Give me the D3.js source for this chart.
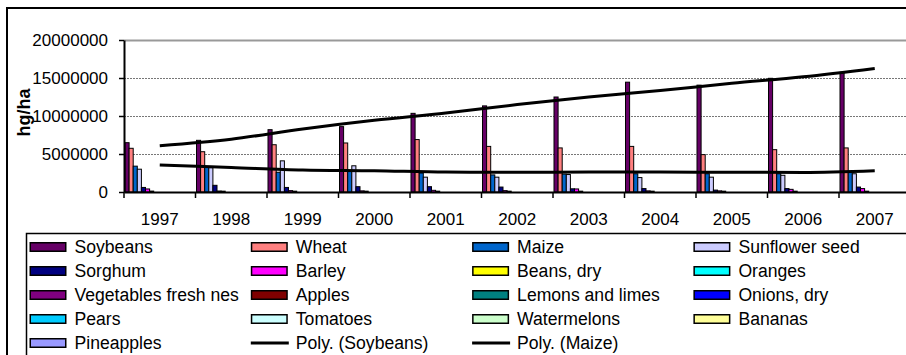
<!DOCTYPE html>
<html>
<head>
<meta charset="utf-8">
<script src="https://cdn.jsdelivr.net/npm/d3@7"></script>
<style>
  html, body { margin: 0; padding: 0; background: #fff; }
  svg { display: block; font-family: "Liberation Sans", Arial, sans-serif; }
</style>
</head>
<body>
<svg id="chart" width="906" height="355"></svg>
<script>
// Yield by year (hg/ha)
const years = ["1997", "1998", "1999", "2000", "2001", "2002", "2003", "2004", "2005", "2006", "2007"];
const yTicks = [0, 5000000, 10000000, 15000000, 20000000];

const soybeans      = [6490000, 6800000, 8200000, 8600000, 10350000, 11330000, 12500000, 14450000, 14060000, 14960000, 15750000];
const wheat         = [5750000, 5300000, 6220000, 6450000, 6900000, 6000000, 5800000, 6000000, 4920000, 5570000, 5800000];
const maize         = [3400000, 3350000, 2600000, 2750000, 2500000, 2250000, 2350000, 2400000, 2400000, 2400000, 2700000];
const sunflowerSeed = [3000000, 3200000, 4100000, 3450000, 1950000, 1950000, 2300000, 1900000, 1950000, 2200000, 2400000];
const sorghum       = [600000, 880000, 600000, 700000, 700000, 650000, 420000, 450000, 250000, 450000, 650000];
const barley        = [400000, 130000, 180000, 150000, 220000, 180000, 400000, 150000, 150000, 350000, 450000];
const beansDry      = [120000, 110000, 110000, 110000, 110000, 110000, 110000, 110000, 110000, 110000, 110000];
const oranges       = [0, 0, 0, 0, 0, 0, 0, 0, 0, 0, 0];
const vegetables    = [0, 0, 0, 0, 0, 0, 0, 0, 0, 0, 0];
const apples        = [0, 0, 0, 0, 0, 0, 0, 0, 0, 0, 0];
const lemonsLimes   = [0, 0, 0, 0, 0, 0, 0, 0, 0, 0, 0];
const onionsDry     = [0, 0, 0, 0, 0, 0, 0, 0, 0, 0, 0];
const pears         = [0, 0, 0, 0, 0, 0, 0, 0, 0, 0, 0];
const tomatoes      = [0, 0, 0, 0, 0, 0, 0, 0, 0, 0, 0];
const watermelons   = [0, 0, 0, 0, 0, 0, 0, 0, 0, 0, 0];
const bananas       = [0, 0, 0, 0, 0, 0, 0, 0, 0, 0, 0];
const pineapples    = [0, 0, 0, 0, 0, 0, 0, 0, 0, 0, 0];

// Polynomial trendlines, value at each year
const polySoybeans = [6090000, 6950000, 8300000, 9450000, 10400000, 11500000, 12500000, 13350000, 14300000, 15150000, 16250000];
const polyMaize    = [3550000, 3230000, 2900000, 2800000, 2630000, 2600000, 2620000, 2620000, 2600000, 2580000, 2800000];

const seriesNames = ["Soybeans", "Wheat", "Maize", "Sunflower seed", "Sorghum", "Barley", "Beans, dry", "Oranges",
  "Vegetables fresh nes", "Apples", "Lemons and limes", "Onions, dry", "Pears", "Tomatoes", "Watermelons", "Bananas", "Pineapples"];
const seriesValues = [soybeans, wheat, maize, sunflowerSeed, sorghum, barley, beansDry, oranges,
  vegetables, apples, lemonsLimes, onionsDry, pears, tomatoes, watermelons, bananas, pineapples];
const seriesColors = ["#660066", "#FF8080", "#0066CC", "#CCCCFF", "#000080", "#FF00FF", "#FFFF00", "#00FFFF",
  "#800080", "#800000", "#008080", "#0000FF", "#00CCFF", "#CCFFFF", "#CCFFCC", "#FFFF99", "#9999FF"];

const svg = d3.select("#chart");

// outer chart frame
svg.append("rect").attr("x", 7).attr("y", 8).attr("width", 1000).attr("height", 1000)
  .attr("fill", "#fff").attr("stroke", "#000").attr("stroke-width", 2);

const x = d3.scaleBand().domain(years).range([124, 910.5]).padding(0);
const xs = d3.scaleBand().domain(seriesNames).range([1, 1 + 17 * 4.1]).padding(0);
const y = d3.scaleLinear().domain([0, 20000000]).range([192, 40]);

// gridlines
svg.append("g").selectAll("line").data(yTicks.filter(d => d > 0)).join("line")
  .attr("x1", 124).attr("x2", 910.5)
  .attr("y1", d => Math.round(y(d)) + 0.5).attr("y2", d => Math.round(y(d)) + 0.5)
  .attr("stroke", d => d === 20000000 ? "#999" : "#777")
  .attr("stroke-width", d => d === 20000000 ? 2 : 1)
  .attr("stroke-dasharray", d => d === 20000000 ? null : "2,1");

// bars
const barG = svg.append("g");
seriesNames.forEach((name, si) => {
  barG.append("g").selectAll("rect")
    .data(years.map((yr, i) => ({ yr, v: seriesValues[si][i] })).filter(d => d.v > 0))
    .join("rect")
    .attr("x", d => x(d.yr) + xs(name))
    .attr("width", xs.bandwidth())
    .attr("y", d => y(d.v))
    .attr("height", d => y(0) - y(d.v))
    .attr("fill", seriesColors[si])
    .attr("stroke", "#000").attr("stroke-width", 1);
});

// y axis
const yAxis = svg.append("g").attr("transform", "translate(124,0)")
  .call(d3.axisLeft(y).tickValues(yTicks).tickFormat(d3.format("d")).tickSize(5).tickSizeOuter(0).tickPadding(11));
yAxis.select(".domain").attr("stroke", "#000").attr("stroke-width", 2);
yAxis.selectAll(".tick line").attr("stroke", "#000").attr("stroke-width", 1.5);
yAxis.selectAll("text").attr("font-size", 17).attr("fill", "#000")
  .attr("font-family", "'Liberation Sans', Arial, sans-serif");

// x axis: labels centred in each year, ticks on boundaries
const xAxis = svg.append("g").attr("transform", "translate(0,192)")
  .call(d3.axisBottom(x).tickSize(0).tickSizeOuter(0).tickPadding(21));
xAxis.select(".domain").attr("stroke", "#000").attr("stroke-width", 2);
xAxis.selectAll("text").attr("font-size", 17).attr("fill", "#000")
  .attr("font-family", "'Liberation Sans', Arial, sans-serif");
xAxis.append("g").selectAll("line").data(years).join("line")
  .attr("x1", d => x(d)).attr("x2", d => x(d))
  .attr("y1", 0).attr("y2", 6)
  .attr("stroke", "#000").attr("stroke-width", 1.5);

// y axis title
svg.append("text")
  .attr("transform", "translate(29.5,112.5) rotate(-90)")
  .attr("text-anchor", "middle")
  .attr("font-size", 18).attr("font-weight", "bold")
  .text("hg/ha");

// trendlines
const trendLine = d3.line()
  .x((d, i) => x(years[i]) + x.bandwidth() / 2)
  .y(d => y(d))
  .curve(d3.curveMonotoneX);
[polySoybeans, polyMaize].forEach(tr => {
  svg.append("path").attr("d", trendLine(tr))
    .attr("fill", "none").attr("stroke", "#000").attr("stroke-width", 3);
});

// legend
const legendItems = seriesNames.map((n, i) => ({ name: n, color: seriesColors[i], type: "bar" }))
  .concat([{ name: "Poly. (Soybeans)", type: "line" }, { name: "Poly. (Maize)", type: "line" }]);

svg.append("rect").attr("x", 26.5).attr("y", 233.5).attr("width", 1000).attr("height", 200)
  .attr("fill", "#fff").attr("stroke", "#000").attr("stroke-width", 1.5);

const lg = svg.append("g");
legendItems.forEach((d, i) => {
  const col = i % 4, row = Math.floor(i / 4);
  const lx = 29.5 + col * 221.3;
  const cy = 247 + row * 24;
  if (d.type === "bar") {
    lg.append("rect").attr("x", lx + 0.75).attr("y", cy - 4.25).attr("width", 35.5).attr("height", 8.5)
      .attr("fill", d.color).attr("stroke", "#000").attr("stroke-width", 1.5);
  } else {
    lg.append("line").attr("x1", lx).attr("x2", lx + 38).attr("y1", cy).attr("y2", cy)
      .attr("stroke", "#000").attr("stroke-width", 3);
  }
  lg.append("text").attr("x", lx + 45).attr("y", cy + 6.2)
    .attr("font-size", 17.6).attr("fill", "#000").text(d.name);
});
</script>
</body>
</html>
